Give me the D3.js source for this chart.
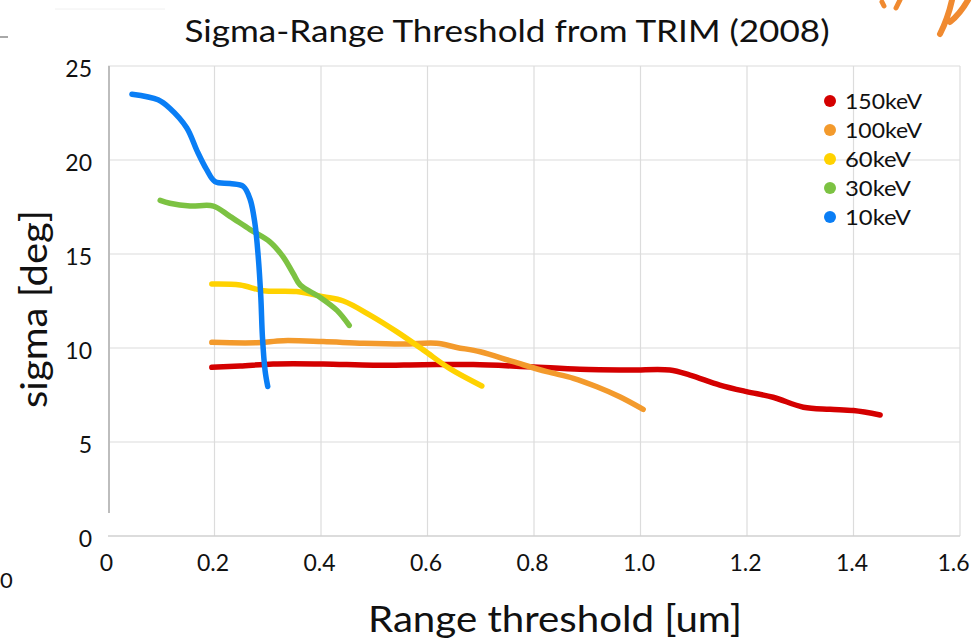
<!DOCTYPE html>
<html>
<head>
<meta charset="utf-8">
<script src="https://cdn.jsdelivr.net/npm/d3@7"></script>
<style>
  html, body { margin: 0; padding: 0; background: #fff; }
  svg { display: block; }
  text { font-family: Lato, "Open Sans", "DejaVu Sans", sans-serif; fill: #111; }
</style>
</head>
<body>
<svg id="chart" width="972" height="640"></svg>
<script>
// ---- data ----
const seriesNames = ["150keV", "100keV", "60keV", "30keV", "10keV"];
const seriesColors = ["#d40000", "#f39a2c", "#ffd200", "#7cc242", "#0a7ef5"];

const x150 = [0.195, 0.248, 0.31, 0.404, 0.498, 0.592, 0.686, 0.792, 0.886, 0.98, 1.055, 1.093, 1.149, 1.199, 1.249, 1.306, 1.356, 1.40, 1.45];
const y150 = [8.97, 9.04, 9.15, 9.15, 9.08, 9.11, 9.12, 9.0, 8.87, 8.83, 8.83, 8.56, 8.03, 7.68, 7.38, 6.85, 6.74, 6.67, 6.44];

const x100 = [0.195, 0.279, 0.329, 0.404, 0.48, 0.555, 0.617, 0.655, 0.699, 0.761, 0.824, 0.874, 0.918, 0.961, 1.005];
const y100 = [10.3, 10.28, 10.39, 10.34, 10.25, 10.21, 10.25, 10.03, 9.8, 9.27, 8.74, 8.39, 7.94, 7.41, 6.74];

const x60 = [0.195, 0.248, 0.292, 0.354, 0.404, 0.442, 0.492, 0.542, 0.592, 0.642, 0.702];
const y60 = [13.4, 13.35, 13.05, 13.0, 12.73, 12.5, 11.75, 10.87, 9.9, 8.9, 7.98];

const x30 = [0.098, 0.116, 0.154, 0.198, 0.229, 0.267, 0.304, 0.329, 0.348, 0.361, 0.398, 0.43, 0.453];
const y30 = [17.85, 17.7, 17.55, 17.55, 17.0, 16.3, 15.65, 14.85, 13.95, 13.35, 12.7, 12.0, 11.2];

const x10 = [0.045, 0.094, 0.116, 0.148, 0.167, 0.185, 0.201, 0.229, 0.254, 0.267, 0.276, 0.282, 0.287, 0.29, 0.295, 0.30];
const y10 = [23.5, 23.2, 22.75, 21.7, 20.5, 19.5, 18.85, 18.75, 18.6, 17.9, 16.6, 14.9, 12.7, 10.6, 8.8, 7.95];

const seriesX = [x150, x100, x60, x30, x10];
const seriesY = [y150, y100, y60, y30, y10];

const xTicks = [0, 0.2, 0.4, 0.6, 0.8, 1.0, 1.2, 1.4, 1.6];
const xTickLabels = ["0", "0.2", "0.4", "0.6", "0.8", "1.0", "1.2", "1.4", "1.6"];
const yTicks = [0, 5, 10, 15, 20, 25];

const titleText = "Sigma-Range Threshold from TRIM (2008)";
const xTitle = "Range threshold [um]";
const yTitle = "sigma [deg]";

// ---- layout ----
const svg = d3.select("#chart");
const mLeft = 108, mRight = 960, mTop = 66, mBottom = 536;
const x = d3.scaleLinear().domain([0, 1.6]).range([mLeft, mRight]);
const y = d3.scaleLinear().domain([0, 25]).range([mBottom, mTop]);

// gridlines
const grid = svg.append("g");
grid.selectAll("line.h").data(yTicks.filter(d => d > 0)).join("line")
  .attr("x1", mLeft).attr("x2", mRight)
  .attr("y1", d => y(d)).attr("y2", d => y(d))
  .attr("stroke", "#dcdcdc").attr("stroke-width", 1.2);
grid.selectAll("line.v").data(xTicks.filter(d => d > 0)).join("line")
  .attr("x1", d => x(d)).attr("x2", d => x(d))
  .attr("y1", mTop).attr("y2", mBottom)
  .attr("stroke", "#dcdcdc").attr("stroke-width", 1.2);
// bottom axis line
svg.append("line").attr("x1", mLeft).attr("x2", mRight).attr("y1", mBottom).attr("y2", mBottom)
  .attr("stroke", "#d0d0d0").attr("stroke-width", 1.5);
// left axis line
svg.append("line").attr("x1", mLeft + 1).attr("x2", mLeft + 1).attr("y1", mTop).attr("y2", mBottom - 23)
  .attr("stroke", "#bdbdbd").attr("stroke-width", 2);

// axes (labels only) via d3 axes
const xAxis = d3.axisBottom(x).tickValues(xTicks).tickFormat((d, i) => xTickLabels[i]).tickSize(0).tickPadding(19);
const gx = svg.append("g").attr("transform", `translate(0,${mBottom})`).call(xAxis);
gx.select(".domain").remove();
gx.selectAll("text").style("font-size", "23px").attr("fill", "#111").attr("font-family", "Lato, 'Open Sans', sans-serif")
  .attr("dx", (d, i) => i === xTicks.length - 1 ? -7 : -2);

const yAxis = d3.axisLeft(y).tickValues(yTicks).tickSize(0).tickPadding(16);
const gy = svg.append("g").attr("transform", `translate(${mLeft},0)`).call(yAxis);
gy.select(".domain").remove();
gy.selectAll("text").style("font-size", "23px").attr("fill", "#111").attr("font-family", "Lato, 'Open Sans', sans-serif")
  .attr("dy", "0.45em");

// lines
const line = d3.line().x(d => x(d[0])).y(d => y(d[1])).curve(d3.curveCatmullRom.alpha(0.5));
seriesNames.forEach((name, i) => {
  const pts = seriesX[i].map((v, j) => [v, seriesY[i][j]]);
  svg.append("path").datum(pts)
    .attr("d", line)
    .attr("fill", "none")
    .attr("stroke", seriesColors[i])
    .attr("stroke-width", 5.5)
    .attr("stroke-linecap", "round")
    .attr("stroke-linejoin", "round");
});

// legend
const lg = svg.append("g").attr("transform", "translate(830,101)");
seriesNames.forEach((name, i) => {
  const row = lg.append("g").attr("transform", `translate(0,${i * 29})`);
  row.append("circle").attr("r", 6).attr("fill", seriesColors[i]);
  row.append("text").attr("x", 15).attr("y", 0).attr("dy", "0.36em")
    .style("font-size", "22px").attr("textLength", 77).attr("lengthAdjust", "spacingAndGlyphs")
    .each(function() {
      // only stretch the longer labels proportionally
      const w = name.length === 6 ? 77 : 66;
      d3.select(this).attr("textLength", w);
    })
    .text(name);
});

// title
svg.append("text").attr("x", 507).attr("y", 42).attr("text-anchor", "middle")
  .style("font-size", "30px").attr("textLength", 645).attr("lengthAdjust", "spacingAndGlyphs")
  .text(titleText);
// axis titles
svg.append("text").attr("x", 555).attr("y", 632).attr("text-anchor", "middle")
  .style("font-size", "36px").attr("textLength", 374).attr("lengthAdjust", "spacingAndGlyphs")
  .text(xTitle);
svg.append("text").attr("transform", "translate(47,309) rotate(-90)").attr("text-anchor", "middle")
  .style("font-size", "36px").attr("textLength", 198).attr("lengthAdjust", "spacingAndGlyphs")
  .text(yTitle);

// stray slide fragments
svg.append("text").attr("x", 0).attr("y", 588).style("font-size", "22px").text("0");
svg.append("line").attr("x1", 0).attr("x2", 8).attr("y1", 37).attr("y2", 37).attr("stroke", "#a8a8a8").attr("stroke-width", 2);
svg.append("line").attr("x1", 55).attr("x2", 165).attr("y1", 9).attr("y2", 9).attr("stroke", "#f0f0f0").attr("stroke-width", 1);
// orange handwriting fragment
svg.append("path").attr("d", "M882,2 L884,6 M900,0 L896,8").attr("stroke", "#f08a30").attr("stroke-width", 5).attr("fill", "none").attr("stroke-linecap", "round");
svg.append("path").attr("d", "M952,0 Q948,18 940,34 M968,0 Q960,14 950,22").attr("stroke", "#f08a30").attr("stroke-width", 6).attr("fill", "none").attr("stroke-linecap", "round");
</script>
</body>
</html>
